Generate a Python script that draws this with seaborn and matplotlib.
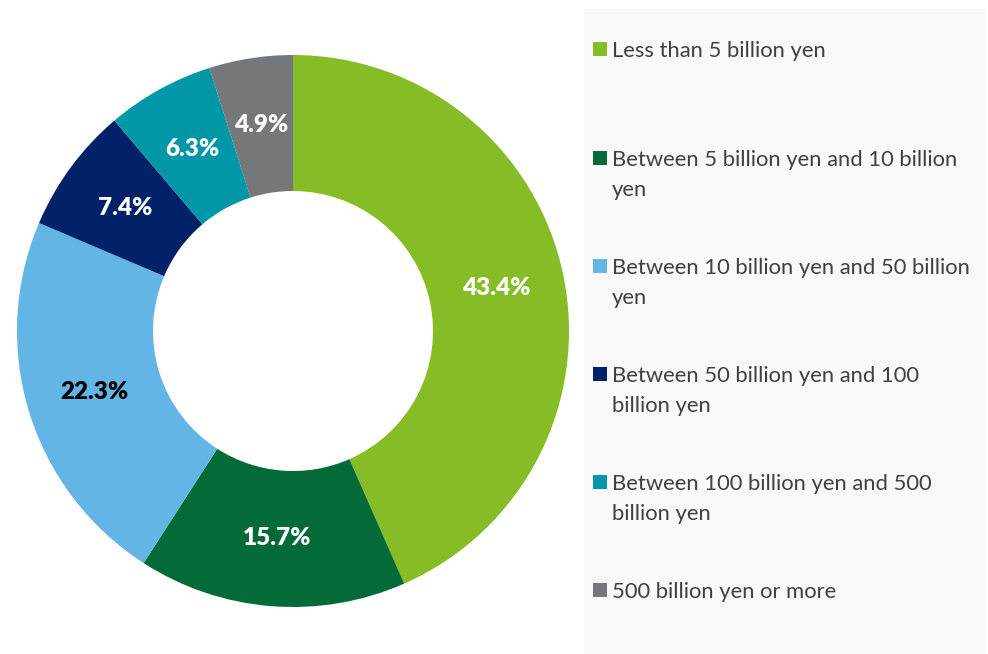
import matplotlib
matplotlib.use("Agg")
import matplotlib.pyplot as plt
from matplotlib.patches import Rectangle
import numpy as np
import seaborn as sns

# Share of companies by annual revenue band
categories = [
    "Less than 5 billion yen",
    "Between 5 billion yen and 10 billion\nyen",
    "Between 10 billion yen and 50 billion\nyen",
    "Between 50 billion yen and 100\nbillion yen",
    "Between 100 billion yen and 500\nbillion yen",
    "500 billion yen or more",
]
shares = [43.4, 15.7, 22.3, 7.4, 6.3, 4.9]
colors = ["#86BC25", "#046A38", "#62B5E5", "#012169", "#0097A9", "#75787B"]
label_colors = ["white", "white", "black", "white", "white", "white"]

sns.set_theme(style="white")
plt.rcParams["font.family"] = ["Lato", "DejaVu Sans"]

W, H = 988, 654
fig = plt.figure(figsize=(W / 100, H / 100), dpi=100)
fig.patch.set_facecolor("white")

# Donut chart: centre (293, 331) px, outer radius 276 px
cx, cy, R = 293, 331, 276
ax = fig.add_axes([(cx - R) / W, (H - cy - R) / H, 2 * R / W, 2 * R / H])
hole = 140 / R
wedges, _ = ax.pie(
    shares,
    colors=colors,
    startangle=90,
    counterclock=False,
    radius=1.0,
    wedgeprops=dict(width=1 - hole, linewidth=0),
)
ax.set_xlim(-1, 1)
ax.set_ylim(-1, 1)
ax.set_aspect("equal")
ax.axis("off")

mid_r = (1 + hole) / 2
for w, val, tc in zip(wedges, shares, label_colors):
    ang = np.deg2rad((w.theta1 + w.theta2) / 2)
    ax.text(mid_r * np.cos(ang), mid_r * np.sin(ang), f"{val:.1f}%",
            ha="center", va="center", color=tc, fontsize=17.5,
            fontweight="heavy")

# Legend panel
def fx(px):
    return px / W

def fy(py):
    return 1 - py / H

panel = Rectangle((fx(584), fy(654)), fx(985) - fx(584), fy(9) - fy(654),
                  transform=fig.transFigure, facecolor="#F9F9F9",
                  edgecolor="none", zorder=0)
fig.patches.append(panel)

row_y = [49, 158, 266, 374, 482, 590]
line_gap = 30
for lab, col, y in zip(categories, colors, row_y):
    fig.patches.append(Rectangle((fx(593), fy(y + 7)), fx(607) - fx(593),
                                 fy(y - 7) - fy(y + 7),
                                 transform=fig.transFigure, facecolor=col,
                                 edgecolor="none", zorder=1))
    for i, line in enumerate(lab.split("\n")):
        fig.text(fx(612), fy(y + i * line_gap), line, ha="left",
                 va="center_baseline", color="#404040", fontsize=15.8)

fig.savefig("out.png", dpi=100)
